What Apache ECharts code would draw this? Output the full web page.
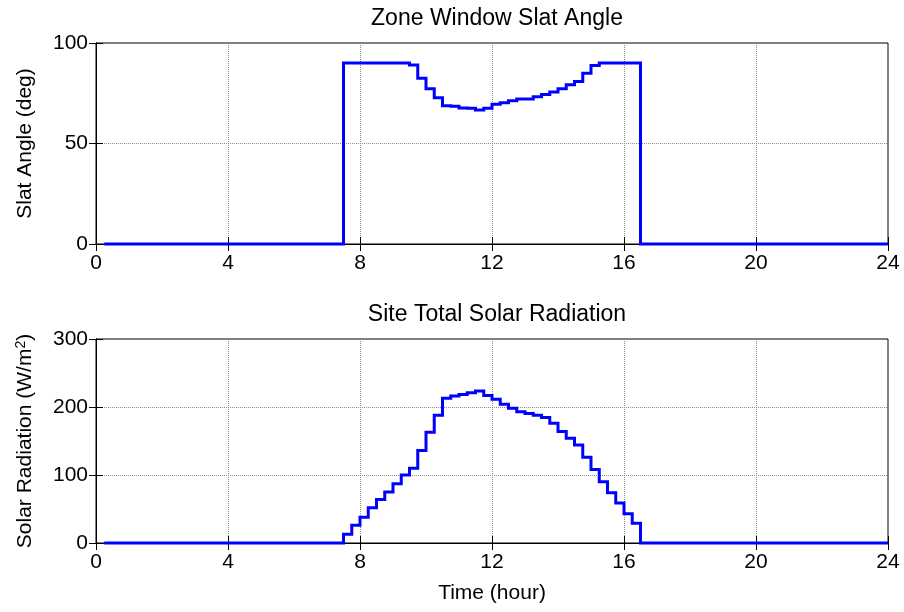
<!DOCTYPE html>
<html>
<head>
<meta charset="utf-8">
<script src="https://cdn.jsdelivr.net/npm/echarts@6/dist/echarts.min.js"></script>
<style>
html,body{margin:0;padding:0;background:#fff;}
#chart{width:904px;height:612px;}
</style>
</head>
<body>
<div id="chart"></div>
<script>
// ---- data (15-minute timesteps, value at end of each timestep) ----
const timeStepHours = 0.25;
const slatAngle = [
  0,0,0,0,0,0,0,0,0,0,0,0,0,0,0,0,0,0,0,0,0,0,0,0,0,0,0,0,0,
  90,90,90,90,90,90,90,90,
  89,82.5,77.2,72.8,68.8,68.5,67.6,67.5,66.7,67.5,69.5,70.3,71.3,72.1,72.2,73.2,74.4,75.6,77.2,79.2,80.9,85,88.8,
  90,90,90,90,90,
  0,0,0,0,0,0,0,0,0,0,0,0,0,0,0,0,0,0,0,0,0,0,0,0,0,0,0,0,0,0,0
];
const solarRad = [
  0,0,0,0,0,0,0,0,0,0,0,0,0,0,0,0,0,0,0,0,0,0,0,0,0,0,0,0,0,
  13,26,38,52,64,75,87,100,110,136,
  163,188,213,216,218.5,221,223.5,217,211.5,204,
  198,193,190.5,188,184.5,176,164,154,144,126,
  108,90,74,59,43,29,
  0,0,0,0,0,0,0,0,0,0,0,0,0,0,0,0,0,0,0,0,0,0,0,0,0,0,0,0,0,0,0
];
const xTicks = {min: 0, max: 24, interval: 4};
const slatTicks = {min: 0, max: 100, interval: 50};
const solarTicks = {min: 0, max: 300, interval: 100};
const titles = ['Zone Window Slat Angle', 'Site Total Solar Radiation'];
const xName = 'Time (hour)';
const slatName = 'Slat Angle (deg)';
const solarName = 'Solar Radiation (W/m{sup|2})';

function pairs(vals) {
  return vals.map((v, i) => [(i + 1) * timeStepHours, v]);
}

const FONT = 'Liberation Sans, Arial, Helvetica, sans-serif';
const FS = 21;
const TFS = 23;
const tick = {show: true, inside: true, length: 7, lineStyle: {color: '#000', width: 1}};
const axLine = {show: true, lineStyle: {color: '#000', width: 1}};
const grid = {show: true, type: 'dotted', color: '#8a8a8a', width: 1};
const lbl = {color: '#000', fontFamily: FONT, fontSize: FS};

function mainX(gi, name) {
  return Object.assign({
    type: 'value', gridIndex: gi, position: 'bottom',
    axisLine: axLine, axisTick: tick,
    axisLabel: Object.assign({margin: 9}, lbl),
    splitLine: {show: true, showMinLine: false, showMaxLine: false, lineStyle: grid},
    name: name || '', nameLocation: 'middle', nameGap: 40,
    nameTextStyle: {color: '#000', fontFamily: FONT, fontSize: FS}
  }, xTicks);
}
function sideX(gi) {
  return Object.assign({
    type: 'value', gridIndex: gi, position: 'top',
    axisLine: axLine, axisTick: tick, axisLabel: {show: false}, splitLine: {show: false}
  }, xTicks);
}
function mainY(gi, ticks, name, rich) {
  return Object.assign({
    type: 'value', gridIndex: gi, position: 'left',
    axisLine: axLine, axisTick: tick,
    axisLabel: Object.assign({margin: 8}, lbl),
    splitLine: {show: true, showMinLine: false, showMaxLine: false, lineStyle: grid},
    name: name, nameLocation: 'middle', nameGap: 60, nameRotate: 90,
    nameTextStyle: {color: '#000', fontFamily: FONT, fontSize: FS, rich: rich || {}}
  }, ticks);
}
function sideY(gi, ticks) {
  return Object.assign({
    type: 'value', gridIndex: gi, position: 'right',
    axisLine: axLine, axisTick: tick, axisLabel: {show: false}, splitLine: {show: false}
  }, ticks);
}
// MATLAB-style stairs drawn as one polyline through the axis scales
function stairSeries(xi, yi, vals) {
  const data = pairs(vals);
  return {
    type: 'custom', xAxisIndex: xi, yAxisIndex: yi, data: data, clip: false, z: 5,
    encode: {x: 0, y: 1},
    renderItem: function (params, api) {
      if (params.dataIndex !== 0) return null;
      const pts = [];
      for (let i = 0; i < data.length; i++) {
        const p = api.coord(data[i]);
        if (i > 0) {
          const prev = api.coord([data[i][0], data[i - 1][1]]);
          pts.push(prev);
        }
        pts.push(p);
      }
      return {
        type: 'polyline', shape: {points: pts},
        style: {stroke: '#0000ff', lineWidth: 3, fill: null, lineCap: 'butt', lineJoin: 'miter'}
      };
    }
  };
}

const chart = echarts.init(document.getElementById('chart'), null, {renderer: 'canvas'});
chart.setOption({
  animation: false,
  backgroundColor: '#fff',
  title: [
    {text: titles[0], left: 492, top: 2, textAlign: 'center',
     textStyle: {color: '#000', fontFamily: FONT, fontSize: TFS, fontWeight: 'normal'}},
    {text: titles[1], left: 492, top: 298, textAlign: 'center',
     textStyle: {color: '#000', fontFamily: FONT, fontSize: TFS, fontWeight: 'normal'}}
  ],
  grid: [
    {left: 96, right: 16, top: 43, height: 201, show: true, borderColor: '#000', borderWidth: 1, backgroundColor: '#fff'},
    {left: 96, right: 16, top: 339, height: 204, show: true, borderColor: '#000', borderWidth: 1, backgroundColor: '#fff'}
  ],
  xAxis: [mainX(0), mainX(1, xName), sideX(0), sideX(1)],
  yAxis: [
    mainY(0, slatTicks, slatName),
    mainY(1, solarTicks, solarName, {sup: {fontSize: 14, fontFamily: FONT, color: '#000', verticalAlign: 'top', padding: [0, 0, 8, 0]}}),
    sideY(0, slatTicks), sideY(1, solarTicks)
  ],
  series: [
    stairSeries(0, 0, slatAngle),
    stairSeries(1, 1, solarRad)
  ]
});
</script>
</body>
</html>
